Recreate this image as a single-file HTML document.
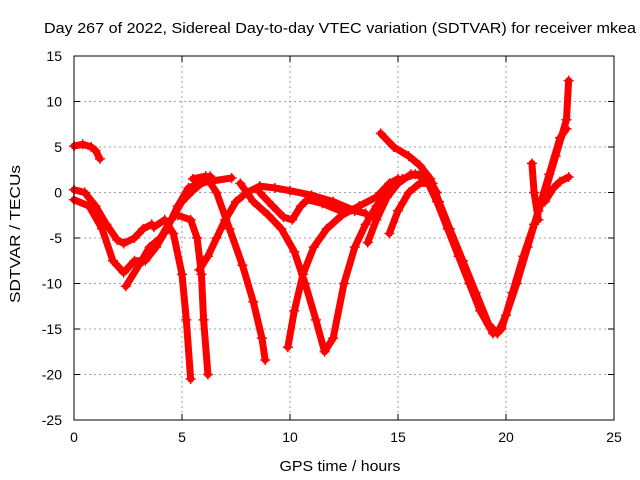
<!DOCTYPE html>
<html><head><meta charset="utf-8"><style>
body{margin:0;background:#fff}
svg{display:block;font-family:"Liberation Sans",sans-serif}
</style></head><body>
<svg id="chart" width="640" height="480">
<rect width="640" height="480" fill="#fff"/>
<text x="340" y="33" font-size="15" text-anchor="middle" textLength="592" lengthAdjust="spacingAndGlyphs">Day 267 of 2022, Sidereal Day-to-day VTEC variation (SDTVAR) for receiver mkea</text>
<text x="340" y="471" font-size="15" text-anchor="middle" textLength="121" lengthAdjust="spacingAndGlyphs">GPS time / hours</text>
<text x="20" y="234" font-size="15" text-anchor="middle" textLength="138" lengthAdjust="spacingAndGlyphs" transform="rotate(-90 20 234)">SDTVAR / TECUs</text>
<g id="grid"></g><g id="ticks"></g><g id="series"></g>
<rect x="74" y="56" width="540" height="364" fill="none" stroke="#000" stroke-width="1"/>
</svg>
<script>
const xTicks=[0,5,10,15,20,25];
const yTicks=[15,10,5,0,-5,-10,-15,-20,-25];
const traceA=[[0,5.1],[0.4,5.3],[0.8,5],[1.0,4.6],[1.2,3.7]];
const traceB=[[0,0.3],[0.5,0],[1,-1.5],[1.5,-3.5],[2,-5.2],[2.3,-5.6],[2.8,-5],[3.2,-4],[3.6,-3.5]];
const traceC=[[0,-0.8],[0.7,-1.5],[1.3,-4],[1.8,-7.5],[2.3,-8.8],[2.8,-7.5],[3.3,-7.5],[3.8,-6],[4.3,-4],[4.8,-1.5],[5.3,0.5],[5.8,1],[6.5,1.3],[7.3,1.6]];
const traceD=[[2.4,-10.3],[3,-8],[3.5,-6],[4,-5],[4.5,-3],[5,-1],[5.5,0.2],[6,1.2],[6.3,1.8]];
const traceS1=[[3.7,-3.8],[4.2,-3],[4.6,-4.5],[5.0,-9],[5.2,-14],[5.4,-20.5]];
const traceS2=[[4.8,-2.5],[5.4,-3],[5.7,-5],[5.9,-9],[6.0,-14],[6.2,-20]];
const traceG=[[5.8,-8.5],[6.2,-7],[6.6,-5],[7,-3],[7.5,-1],[8,0],[8.6,0.7],[9.3,0.5],[10,0.2],[11,-0.3],[12,-1],[13,-2],[13.5,-2.3]];
const traceE=[[5.5,1.5],[6.1,1.8],[6.6,0],[7.2,-4],[7.8,-8],[8.3,-12],[8.7,-16],[8.85,-18.4]];
const traceF=[[7.7,1],[8.3,-1],[9,-2.5],[9.6,-4],[10.2,-6.5],[10.7,-10],[11.2,-14],[11.6,-17.5],[12,-16],[12.5,-10],[13,-6],[13.5,-3.5],[14,-1.5],[14.6,0.3],[15.2,1.5],[15.8,2],[16.3,1.5],[16.8,-1],[17.3,-4],[17.8,-7],[18.3,-10],[18.8,-13],[19.4,-15.5],[19.8,-15],[20.3,-11],[20.8,-7],[21.3,-3.5],[21.8,0],[22.3,4],[22.8,8],[22.9,12.3]];
const traceH=[[8.6,0],[9.2,-1.5],[9.7,-2.7],[10.1,-3],[10.5,-1.5],[10.8,-0.8],[11.5,-1.2],[12.3,-2],[13,-2]];
const traceI=[[9.9,-17],[10.2,-13],[10.6,-9],[11.1,-6],[11.7,-4],[12.4,-2.5],[13.2,-1.5],[14,-0.5],[14.6,1],[15,1.5]];
const traceK=[[14.2,6.5],[14.8,5],[15.5,4],[16,3],[16.5,1.5],[16.9,-1],[17.4,-4],[18,-7.5],[18.6,-11],[19.2,-14.5],[19.6,-15.5],[20,-13.5],[20.5,-10],[21,-6],[21.5,-2],[22,2],[22.5,6],[22.8,7]];
const traceL=[[13.6,-5.5],[14,-3],[14.5,-0.5],[15,1],[15.6,2],[16.3,2],[16.8,0]];
const traceM=[[14.6,-4.5],[15,-2],[15.5,0],[16,1],[16.6,1]];
const traceN=[[21.2,3.2],[21.3,0],[21.5,-3]];
const traceO=[[21.8,-1],[22.2,0.5],[22.5,1.2],[22.9,1.7]];
const traces=[traceA,traceB,traceC,traceD,traceS1,traceS2,traceG,traceE,traceF,traceH,traceI,traceK,traceL,traceM,traceN,traceO];
const NS="http://www.w3.org/2000/svg";
function xs(h){return 74+h*(540/25);}
function ys(v){return 56+(15-v)*(364/40);}
const grid=document.getElementById('grid'),ticks=document.getElementById('ticks'),ser=document.getElementById('series');
function mk(tag,attrs,parent){const e=document.createElementNS(NS,tag);for(const k in attrs)e.setAttribute(k,attrs[k]);parent.appendChild(e);return e;}
xTicks.forEach(t=>{const x=xs(t);
 if(t>0&&t<25){const g=mk('line',{x1:x,x2:x,y1:56,y2:420,stroke:'#a0a0a0','stroke-dasharray':'2,3'},grid);
 
 }
 mk('line',{x1:x,x2:x,y1:420,y2:414,stroke:'#000'},ticks);mk('line',{x1:x,x2:x,y1:56,y2:62,stroke:'#000'},ticks);
 const l=mk('text',{x:x,y:442,'font-size':14,'text-anchor':'middle'},ticks);l.textContent=t;
 
 });
yTicks.forEach(t=>{const y=ys(t);
 if(t<15&&t>-25){const g=mk('line',{x1:74,x2:614,y1:y,y2:y,stroke:'#a0a0a0','stroke-dasharray':'2,3'},grid);
 
 }
 mk('line',{x1:74,x2:80,y1:y,y2:y,stroke:'#000'},ticks);mk('line',{x1:614,x2:608,y1:y,y2:y,stroke:'#000'},ticks);
 const l=mk('text',{x:62,y:y+5,'font-size':14,'text-anchor':'end'},ticks);l.textContent=t;
 
 });
traces.forEach((tr,i)=>{
 const g=mk('g',{},ser);
 
 
 mk('polyline',{points:tr.map(p=>xs(p[0])+','+ys(p[1])).join(' '),fill:'none',stroke:'#f00','stroke-width':7,'stroke-linejoin':'round','stroke-linecap':'round'},g);
 tr.forEach(p=>{const x=xs(p[0]),y=ys(p[1]);
  mk('path',{d:`M${x-5},${y}H${x+5}M${x},${y-5}V${y+5}`,stroke:'#f00','stroke-width':1.5},g);});
});
</script>
</body></html>
